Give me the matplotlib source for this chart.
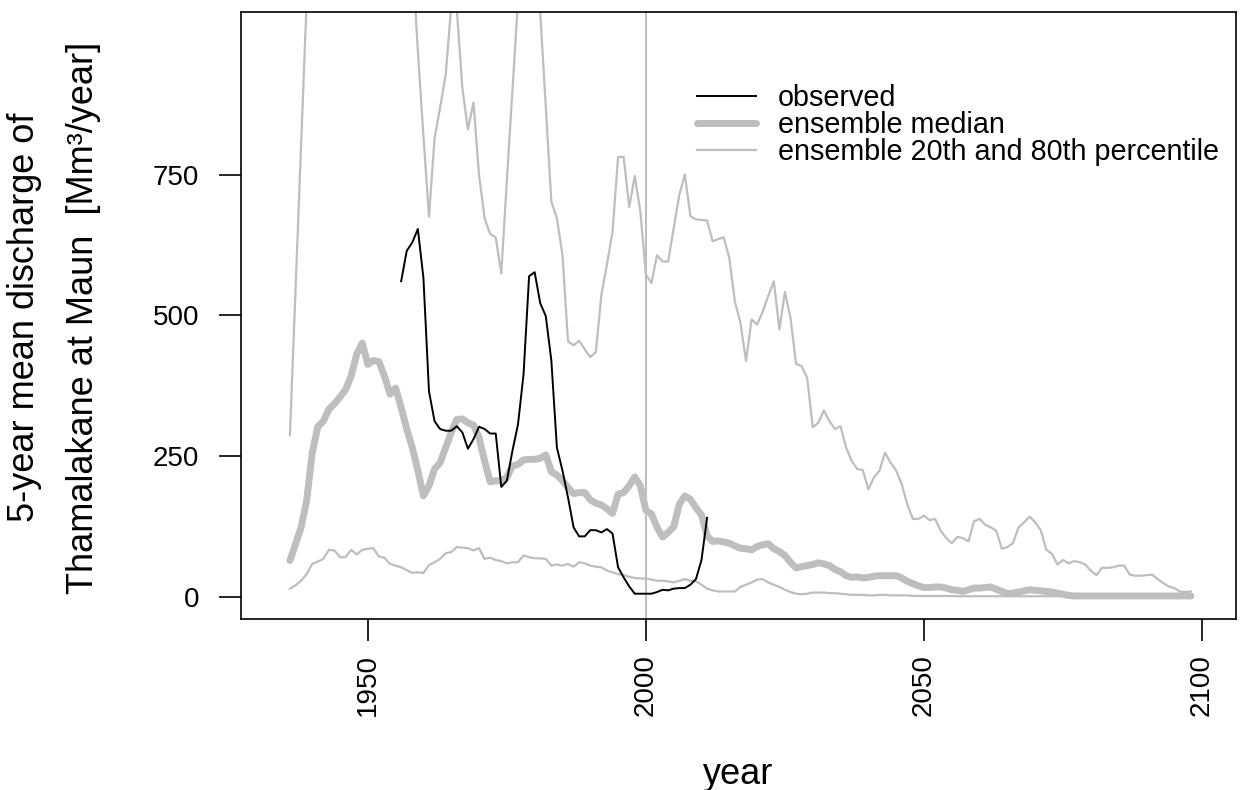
import numpy as np
import matplotlib
matplotlib.use('Agg')
import matplotlib.pyplot as plt

plt.rcParams['font.family'] = ['Liberation Sans', 'DejaVu Sans']

# years of the ensemble runs and of the gauge record
ens_years = np.arange(1936, 2099)
obs_years = np.arange(1956, 2012)

# 5-year mean discharge [Mm3/year]
observed = [561, 615, 630, 654, 567, 365, 312, 298, 295, 295,
            303, 292, 263, 280, 302, 298, 290, 290, 195, 206,
            259, 306, 395, 570, 577, 522, 499, 420, 265, 224,
            176, 123, 107, 107, 118, 118, 114, 120, 112, 52,
            34, 18, 5, 5, 5, 5, 8, 12, 11, 14,
            15, 15, 21, 31, 65, 140]

ens_median = [64, 93, 123, 170, 255, 302, 312, 333, 343, 355,
              368, 392, 431, 451, 413, 420, 418, 392, 360, 371,
              336, 298, 265, 224, 179, 197, 227, 238, 265, 292,
              315, 316, 309, 305, 283, 241, 204, 206, 206, 212,
              232, 235, 243, 244, 244, 246, 252, 222, 216, 206,
              194, 183, 185, 185, 172, 166, 163, 156, 148, 182,
              185, 197, 213, 197, 153, 147, 123, 106, 114, 124,
              164, 179, 173, 158, 145, 108, 98, 99, 97, 95,
              90, 86, 85, 83, 89, 92, 94, 85, 80, 73,
              61, 51, 53, 55, 57, 60, 58, 55, 48, 44,
              37, 34, 35, 33, 34, 36, 37, 37, 37, 37,
              33, 27, 23, 19, 16, 16, 17, 17, 15, 12,
              11, 9, 12, 15, 15, 16, 17, 13, 9, 5,
              6, 8, 10, 12, 11, 10, 9, 8, 6, 4,
              2, 1, 1, 1, 1, 1, 1, 1, 1, 1,
              1, 1, 1, 1, 1, 1, 1, 1, 1, 1,
              1, 1, 1]

ens_p20 = [14, 20, 28, 40, 58, 62, 67, 83, 82, 70,
           70, 83, 75, 83, 85, 86, 71, 69, 58, 55,
           52, 47, 42, 43, 42, 56, 61, 67, 77, 79,
           88, 87, 86, 82, 86, 67, 69, 65, 63, 59,
           61, 61, 73, 70, 68, 68, 67, 55, 57, 55,
           58, 53, 61, 59, 55, 53, 52, 46, 43, 40,
           38, 35, 33, 32, 32, 30, 28, 28, 27, 25,
           28, 31, 28, 27, 21, 14, 11, 9, 9, 9,
           9, 17, 21, 25, 30, 31, 25, 21, 17, 12,
           8, 5, 4, 5, 7, 7, 7, 6, 6, 5,
           4, 3, 3, 3, 2, 2, 3, 3, 2, 2,
           2, 2, 1, 1, 1, 1, 1, 1, 1, 1,
           0.5, 0.5, 0.5, 0.5, 0.5, 0.5, 0.5, 0.5, 0.5, 0.5,
           0.5, 0.5, 0.5, 0.5, 0.5, 0.5, 0.5, 0.5, 0.5, 0.5,
           0.3, 0.3, 0.3, 0.3, 0.3, 0.3, 0.3, 0.3, 0.3, 0.3,
           0.3, 0.3, 0.3, 0.3, 0.3, 0.3, 0.3, 0.3, 0.3, 0.3,
           0.5, 1, 1.5]

# early values go far above the plotted range
ens_p80 = [287, 545, 800, 1060, 1250, 1400, 1500, 1450, 1600, 1550,
           1700, 1650, 1500, 1600, 1450, 1550, 1400, 1350, 1300, 1250,
           1300, 1250, 1140, 970, 820, 676, 815, 870, 928, 1050,
           1045, 905, 831, 879, 750, 673, 645, 639, 575, 740,
           900, 1060, 1200, 1250, 1150, 1040, 870, 703, 673, 608,
           454, 447, 455, 440, 426, 435, 537, 591, 649, 782,
           782, 693, 748, 685, 573, 558, 607, 596, 596, 655,
           714, 751, 677, 671, 670, 669, 632, 636, 639, 602,
           525, 487, 419, 493, 484, 507, 535, 561, 475, 542,
           496, 414, 410, 389, 301, 309, 331, 312, 298, 303,
           265, 241, 227, 225, 191, 212, 224, 256, 238, 224,
           200, 164, 138, 138, 144, 136, 138, 117, 104, 95,
           106, 104, 98, 134, 138, 128, 123, 117, 85, 88,
           95, 123, 132, 142, 132, 118, 83, 76, 57, 65,
           59, 63, 61, 57, 46, 38, 51, 51, 52, 55,
           55, 39, 37, 37, 38, 39, 31, 24, 18, 15,
           9, 8, 9]

legend_labels = ['observed', 'ensemble median', 'ensemble 20th and 80th percentile']
x_ticks = [1950, 2000, 2050, 2100]
y_ticks = [0, 250, 500, 750]

grey = '#BEBEBE'

fig = plt.figure(figsize=(12.4, 7.9), dpi=100)
ax = fig.add_axes([0.19435, 0.21646, 0.80242, 0.76835])

ax.axvline(2000, color=grey, lw=1.5, zorder=1)
ax.plot(ens_years, ens_p80, color=grey, lw=1.6, zorder=2)
l_pct, = ax.plot(ens_years, ens_p20, color=grey, lw=1.6, zorder=2)
l_med, = ax.plot(ens_years, ens_median, color=grey, lw=5,
                 solid_capstyle='round', solid_joinstyle='round', zorder=3)
l_obs, = ax.plot(obs_years, observed, color='black', lw=1.4, zorder=4)

ax.set_xlim(1927.2, 2106.1)
ax.set_ylim(-40, 1040)
ax.set_xticks(x_ticks)
ax.set_yticks(y_ticks)
ax.set_xticklabels([str(t) for t in x_ticks], rotation=90, va='top')
ax.tick_params(axis='both', length=16, width=1.2, labelsize=20, direction='out')
ax.tick_params(axis='y', pad=14)
ax.tick_params(axis='x', pad=9)
for s in ax.spines.values():
    s.set_linewidth(1.2)

ax.legend([l_obs, l_med, l_pct], legend_labels, loc='center left',
          bbox_to_anchor=(0.4583, 0.8138), frameon=False, fontsize=20.7,
          borderpad=0, borderaxespad=0, handlelength=2.05,
          handletextpad=0.75, labelspacing=-0.04)

fig.text(0.5956, 0.0076, 'year', ha='center', va='baseline', fontsize=26)
fig.text(0.0194, 0.598, '5-year mean discharge of', rotation=90,
         ha='center', va='center', fontsize=26)
fig.text(0.0677, 0.598, 'Thamalakane at Maun  [Mm\u00b3/year]', rotation=90,
         ha='center', va='center', fontsize=26)

fig.savefig('out.png', dpi=100)
plt.close(fig)
